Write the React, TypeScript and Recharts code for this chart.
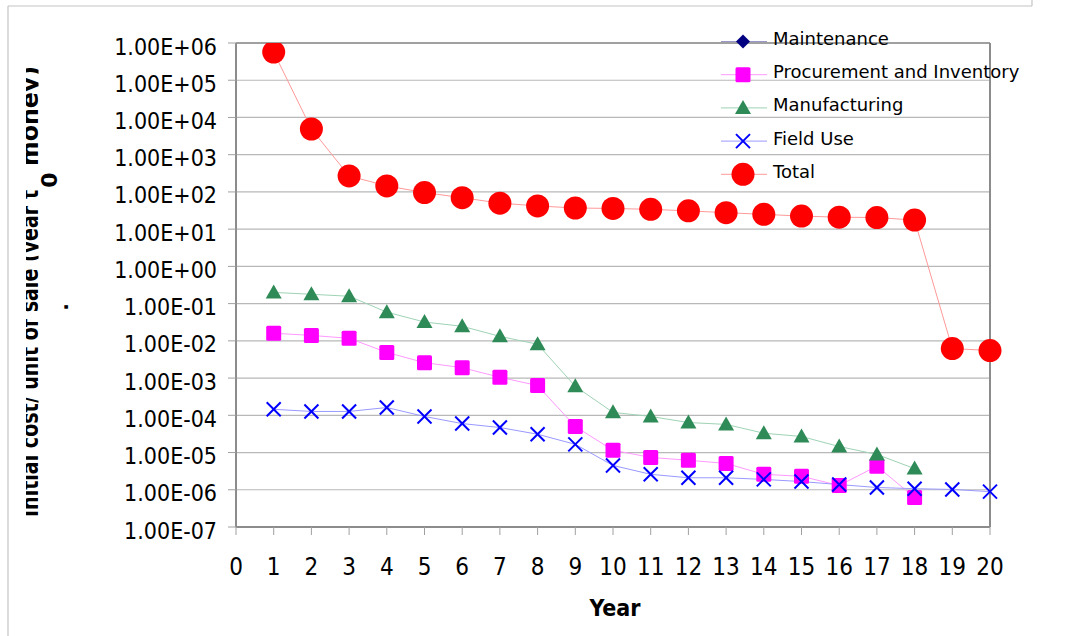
import React from "react";
import { CartesianGrid, Legend, Line, LineChart, ReferenceLine, XAxis, YAxis } from "recharts";

// values (cost per unit vs year)
const years = [1, 2, 3, 4, 5, 6, 7, 8, 9, 10, 11, 12, 13, 14, 15, 16, 17, 18, 19, 20];

const maintenance: (number | null)[] = [
  null, null, null, null, null, null, null, null, null, null,
  null, null, null, null, null, null, null, null, null, null,
];

const procurement: (number | null)[] = [
  0.016, 0.014, 0.0117, 0.0049, 0.0026, 0.0019, 0.00105, 0.00063, 5.0e-5, 1.15e-5,
  7.4e-6, 6.2e-6, 5.1e-6, 2.6e-6, 2.3e-6, 1.3e-6, 4.3e-6, 6.2e-7, null, null,
];

const manufacturing: (number | null)[] = [
  0.2, 0.178, 0.158, 0.059, 0.032, 0.0246, 0.0132, 0.0081, 6.0e-4, 1.2e-4,
  9.3e-5, 6.4e-5, 5.7e-5, 3.3e-5, 2.7e-5, 1.45e-5, 8.9e-6, 3.7e-6, null, null,
];

const fieldUse: (number | null)[] = [
  1.45e-4, 1.27e-4, 1.27e-4, 1.62e-4, 9.3e-5, 6.0e-5, 4.7e-5, 3.1e-5, 1.66e-5, 4.5e-6,
  2.6e-6, 2.1e-6, 2.1e-6, 1.9e-6, 1.66e-6, 1.38e-6, 1.15e-6, 1.07e-6, 1.02e-6, 8.9e-7,
];

const total: (number | null)[] = [
  5.7e5, 4.9e3, 268, 145, 96, 70, 50, 42, 37, 36,
  34, 31, 27.7, 25, 22.4, 21, 20.5, 17.5, 0.0062, 0.0055,
];

const xTicks = [0, 1, 2, 3, 4, 5, 6, 7, 8, 9, 10, 11, 12, 13, 14, 15, 16, 17, 18, 19, 20];
const yTicks = [1e-7, 1e-6, 1e-5, 1e-4, 1e-3, 1e-2, 1e-1, 1e0, 1e1, 1e2, 1e3, 1e4, 1e5, 1e6];

const data = years.map((year, i) => ({
  year,
  maintenance: maintenance[i],
  procurement: procurement[i],
  manufacturing: manufacturing[i],
  fieldUse: fieldUse[i],
  total: total[i],
}));

type MarkerKind = "diamond" | "square" | "triangle" | "cross" | "circle";

const series: { key: string; name: string; color: string; line: string; marker: MarkerKind }[] = [
  { key: "maintenance", name: "Maintenance", color: "#000080", line: "#9999cc", marker: "diamond" },
  { key: "procurement", name: "Procurement and Inventory", color: "#ff00ff", line: "#ff99ff", marker: "square" },
  { key: "manufacturing", name: "Manufacturing", color: "#2e8b57", line: "#9fd3b5", marker: "triangle" },
  { key: "fieldUse", name: "Field Use", color: "#0000ff", line: "#9999ff", marker: "cross" },
  { key: "total", name: "Total", color: "#ff0000", line: "#ff9999", marker: "circle" },
];

const condensed = '"DejaVu Sans Condensed", "DejaVu Sans", sans-serif';

function Marker({ kind, cx, cy, color }: { kind: MarkerKind; cx: number; cy: number; color: string }) {
  switch (kind) {
    case "diamond":
      return <polygon points={`${cx},${cy - 7} ${cx + 7},${cy} ${cx},${cy + 7} ${cx - 7},${cy}`} fill={color} />;
    case "square":
      return <rect x={cx - 7.5} y={cy - 7.5} width={15} height={15} rx={1.5} fill={color} />;
    case "triangle":
      return <polygon points={`${cx},${cy - 8} ${cx + 8},${cy + 6} ${cx - 8},${cy + 6}`} fill={color} />;
    case "cross":
      return (
        <g stroke={color} strokeWidth={2}>
          <line x1={cx - 7} y1={cy - 7} x2={cx + 7} y2={cy + 7} />
          <line x1={cx - 7} y1={cy + 7} x2={cx + 7} y2={cy - 7} />
        </g>
      );
    default:
      return <circle cx={cx} cy={cy} r={11.5} fill={color} />;
  }
}

function formatExp(v: number) {
  const e = Math.round(Math.log10(v));
  const sign = e < 0 ? "-" : "+";
  return `1.00E${sign}${String(Math.abs(e)).padStart(2, "0")}`;
}

function YTick(props: any) {
  const { x, y, payload } = props;
  return (
    <text x={x} y={y} dy={11.5} textAnchor="end" fontSize={23} fill="#000" fontFamily={condensed} style={{ fontStretch: "condensed" }}>
      {formatExp(payload.value)}
    </text>
  );
}

function XTick(props: any) {
  const { x, y, payload } = props;
  return (
    <text x={x} y={y} dy={38} textAnchor="middle" fontSize={24} fill="#000" fontFamily={condensed} style={{ fontStretch: "condensed" }}>
      {payload.value}
    </text>
  );
}

function LegendBox() {
  const row = 33.2;
  return (
    <svg width={360} height={170}>
      {series.map((s, i) => {
        const cy = 17.5 + i * row;
        return (
          <g key={s.key}>
            <line x1={3} x2={49} y1={cy} y2={cy} stroke={s.line} strokeWidth={1} />
            <Marker kind={s.marker} cx={25} cy={cy} color={s.color} />
            <text x={55} y={cy + 3.5} fontSize={18} fontFamily='"DejaVu Sans", sans-serif' fill="#000">
              {s.name}
            </text>
          </g>
        );
      })}
    </svg>
  );
}

function makeDot(kind: MarkerKind, color: string) {
  return (p: any) => {
    if (p.value === null || p.value === undefined || p.cx == null || p.cy == null) {
      return <g key={`e-${p.index}`} />;
    }
    return (
      <g key={`d-${p.index}`}>
        <Marker kind={kind} cx={p.cx} cy={p.cy} color={color} />
      </g>
    );
  };
}

export default function App() {
  return (
    <div style={{ position: "absolute", left: 0, top: 0, width: 1081, height: 636, background: "#fff", fontFamily: '"DejaVu Sans", sans-serif' }}>
      <LineChart width={1081} height={636} data={data} margin={{ top: 43, right: 91, bottom: 0, left: 0 }}>
        <CartesianGrid vertical={false} stroke="#b8b8b8" strokeWidth={1.2} />
        <XAxis
          dataKey="year"
          type="number"
          domain={[0, 20]}
          ticks={xTicks}
          interval={0}
          height={109}
          tickSize={8}
          tickMargin={2}
          axisLine={{ stroke: "#8c8c8c", strokeWidth: 2 }}
          tickLine={{ stroke: "#a0a0a0" }}
          tick={<XTick />}
        />
        <YAxis
          scale="log"
          domain={[1e-7, 1e6]}
          ticks={yTicks}
          interval={0}
          allowDataOverflow
          width={236}
          tickSize={8}
          tickMargin={11}
          axisLine={{ stroke: "#8c8c8c", strokeWidth: 2 }}
          tickLine={{ stroke: "#a0a0a0" }}
          tick={<YTick />}
        />
        <ReferenceLine x={20} stroke="#8c8c8c" strokeWidth={2} />
        <ReferenceLine y={1e6} stroke="#8c8c8c" strokeWidth={1.5} />
        {series.map((s) => (
          <Line
            key={s.key}
            type="linear"
            dataKey={s.key}
            name={s.name}
            stroke={s.line}
            strokeWidth={1}
            dot={makeDot(s.marker, s.color)}
            activeDot={false}
            connectNulls={false}
            isAnimationActive={false}
          />
        ))}
        <Legend
          layout="vertical"
          align="center"
          verticalAlign="middle"
          wrapperStyle={{ left: 718, top: 24, width: 360, height: 170 }}
          content={() => <LegendBox />}
        />
      </LineChart>
      <svg width={1081} height={636} style={{ position: "absolute", left: 0, top: 0, pointerEvents: "none" }}>
        <defs>
          <clipPath id="ylabClip">
            <rect x={26} y={0} width={12.5} height={636} />
          </clipPath>
        </defs>
        <g stroke="#c4c4c4" strokeWidth={1.2} fill="none">
          <line x1={8} y1={6} x2={1032} y2={6} />
          <line x1={8} y1={6} x2={8} y2={636} />
          <line x1={1032} y1={0} x2={1032} y2={6} />
        </g>
        <g clipPath="url(#ylabClip)" fontFamily='"DejaVu Sans", sans-serif' fontWeight="bold" fontSize={25} fill="#000">
          <text transform="translate(38,517) rotate(-90)" textLength={327} lengthAdjust="spacingAndGlyphs">
            Initial cost/ unit of sale (year t
          </text>
          <text transform="translate(38,166) rotate(-90)" textLength={100} lengthAdjust="spacingAndGlyphs">
            money)
          </text>
        </g>
        <text transform="translate(57,180) rotate(-90)" textAnchor="middle" fontFamily='"DejaVu Sans", sans-serif' fontWeight="bold" fontSize={22} fill="#000">
          0
        </text>
        <text transform="translate(68,307) rotate(-90)" textAnchor="middle" fontFamily='"DejaVu Sans", sans-serif' fontWeight="bold" fontSize={20} fill="#000">
          .
        </text>
        <text x={615} y={616} textAnchor="middle" fontFamily={condensed} fontWeight="bold" fontSize={23} fill="#000" style={{ fontStretch: "condensed" }}>
          Year
        </text>
      </svg>
    </div>
  );
}
